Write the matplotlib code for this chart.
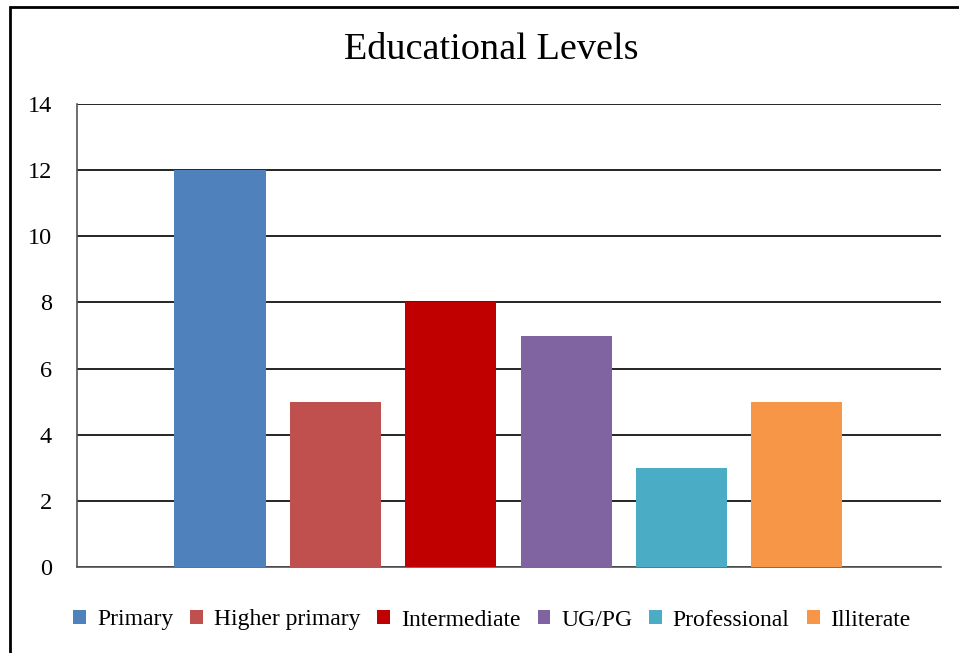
import matplotlib
matplotlib.use("Agg")
import matplotlib.pyplot as plt
from matplotlib.patches import Rectangle, Patch

categories = ["Primary", "Higher primary", "Intermediate", "UG/PG", "Professional", "Illiterate"]
values = [12, 5, 8, 7, 3, 5]
colors = ["#4F81BD", "#C0504D", "#C00000", "#8064A2", "#4BACC6", "#F79646"]
yticks = [0, 2, 4, 6, 8, 10, 12, 14]

plt.rcParams['font.family'] = ['Liberation Serif', 'DejaVu Serif']

W, H = 959, 653
fig = plt.figure(figsize=(W / 100, H / 100), dpi=100)

# axes placement in pixels
left, right, top, bottom = 77, 941, 104, 567
ax = fig.add_axes([left / W, 1 - bottom / H, (right - left) / W, (bottom - top) / H])

x = list(range(len(categories)))
ax.bar(x, values, width=0.79, color=colors, zorder=3)
ax.set_xlim(-1.24, 6.25)
ax.set_ylim(0, 14)
ax.set_yticks(yticks)
ax.set_yticklabels([str(t) for t in yticks], fontsize=17.5)
ax.set_xticks([])
ax.tick_params(axis='y', length=0, pad=18)
ax.yaxis.grid(True, color="#000000", linewidth=1.2, zorder=0)
for s in ["top", "right"]:
    ax.spines[s].set_visible(False)
ax.spines["left"].set_color("#555555")
ax.spines["bottom"].set_color("#555555")
ax.spines["left"].set_linewidth(1.2)
ax.spines["bottom"].set_linewidth(1.2)

fig.text(491 / W, 1 - 50 / H, "Educational Levels", ha="center", va="center", fontsize=27.5)

handles = [Patch(facecolor=c, edgecolor='none') for c in colors]
leg = fig.legend(handles, categories, loc="center", bbox_to_anchor=(492 / W, 1 - 620 / H),
                 ncol=6, frameon=False, fontsize=17, handlelength=0.55, handleheight=0.55,
                 handletextpad=0.45, columnspacing=0.72)

# outer border
fig.patches.append(Rectangle((10 / W, -0.05), 1.2, 1 - 7 / H + 0.05, transform=fig.transFigure,
                             fill=False, edgecolor="#000000", linewidth=2, figure=fig))

fig.savefig("out.png", dpi=100)
